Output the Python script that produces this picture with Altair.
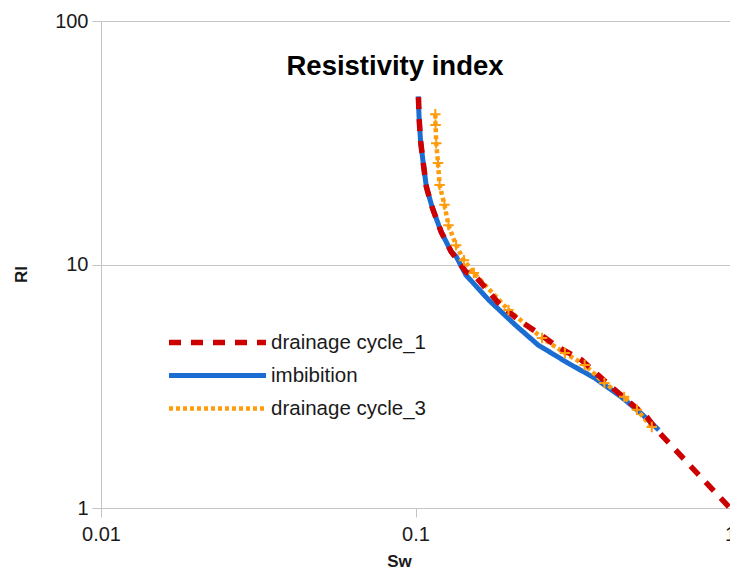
import altair as alt
import pandas as pd

# drainage cycle_1
d1_sw = [0.1022, 0.1027, 0.1037, 0.1057, 0.1083, 0.1131, 0.1207, 0.1298, 0.1447, 0.1555, 0.1837, 0.2124, 0.2455, 0.2838, 0.3375, 0.4198, 0.5446, 0.585, 1.0]
d1_ri = [48.7, 39.9, 32.5, 26.4, 20.8, 17.1, 13.6, 11.3, 9.32, 8.91, 6.95, 5.92, 5.23, 4.58, 4.05, 3.14, 2.36, 2.09, 1.0]

# imbibition
im_sw = [0.1020, 0.1027, 0.1037, 0.1057, 0.1083, 0.1131, 0.1207, 0.1298, 0.1346, 0.1447, 0.1709, 0.2078, 0.2455, 0.305, 0.371, 0.451, 0.521, 0.594]
im_ri = [49.0, 39.9, 32.5, 26.4, 20.8, 17.1, 13.6, 11.3, 10.8, 9.05, 7.15, 5.64, 4.67, 3.94, 3.42, 2.86, 2.45, 2.09]

# drainage cycle_3
d3_sw = [0.1156, 0.1158, 0.1164, 0.1179, 0.1193, 0.1236, 0.1273, 0.1346, 0.1426, 0.1533, 0.1975, 0.2526, 0.2985, 0.345, 0.3988, 0.4607, 0.506, 0.564]
d3_ri = [41.4, 37.4, 31.5, 26.1, 21.2, 17.6, 14.5, 12.0, 10.4, 9.23, 6.5, 4.99, 4.33, 3.87, 3.26, 2.86, 2.53, 2.15]

series_names = ["drainage cycle_1", "imbibition", "drainage cycle_3"]
series_colors = ["#cc0000", "#1b6dd1", "#ff9c0e"]
series_dash = [[12, 10], [1, 0], [4, 3]]
series_width = [5.5, 4.5, 4.2]

x_ticks = [0.01, 0.1, 1]
y_ticks = [1, 10, 100]

# drawing order: imbibition at the bottom, then cycle_3, then cycle_1 on top
draw_order = [("imbibition", im_sw, im_ri), ("drainage cycle_3", d3_sw, d3_ri), ("drainage cycle_1", d1_sw, d1_ri)]
rows = []
for name, xs, ys in draw_order:
    for i, (a, b) in enumerate(zip(xs, ys)):
        rows.append({"series": name, "Sw": a, "RI": b, "idx": i})
df = pd.DataFrame(rows)
df3 = df[df["series"] == "drainage cycle_3"]

FONT = "Liberation Sans"

x_scale = alt.Scale(type="log", domain=[0.01, 1], nice=False)
y_scale = alt.Scale(type="log", domain=[1, 100], nice=False)

x_enc = alt.X("Sw:Q", title="Sw", scale=x_scale,
              axis=alt.Axis(values=x_ticks, format="~g", grid=False, tickSize=9,
                            labelFlush=False, labelPadding=7, titlePadding=9, titleX=298))
y_enc = alt.Y("RI:Q", title="RI", scale=y_scale,
              axis=alt.Axis(values=y_ticks, format="~g", grid=True, tickSize=9,
                            labelPadding=4, titlePadding=24, titleY=253))

legend_kw = dict(title=None, orient="none", legendX=65, legendY=305,
                 symbolType="stroke", symbolSize=9409, symbolStrokeWidth=5,
                 clipHeight=33, labelFontSize=20.5, labelFont=FONT, labelColor="#1a1a1a",
                 labelOffset=2, rowPadding=0, padding=0)

lines = alt.Chart(df).mark_line().encode(
    x=x_enc,
    y=y_enc,
    order="idx:Q",
    color=alt.Color("series:N",
                    scale=alt.Scale(domain=series_names, range=series_colors),
                    legend=alt.Legend(**legend_kw)),
    strokeDash=alt.StrokeDash("series:N",
                              scale=alt.Scale(domain=series_names, range=series_dash),
                              legend=alt.Legend(**legend_kw)),
    strokeWidth=alt.StrokeWidth("series:N",
                                scale=alt.Scale(domain=series_names, range=series_width),
                                legend=None),
)

markers = alt.Chart(df3).mark_point(
    shape="M-1,0H1M0,-1V1", filled=False, strokeWidth=2, size=110, opacity=1
).encode(
    x=alt.X("Sw:Q", scale=x_scale),
    y=alt.Y("RI:Q", scale=y_scale),
    color=alt.value("#ff9c0e"),
)

chart = alt.layer(lines, markers).properties(
    width=629, height=487,
    autosize=alt.AutoSizeParams(type="none"),
    padding={"left": 93, "top": 13, "right": 0, "bottom": 62},
    title=alt.TitleParams("Resistivity index", fontSize=27.5, font=FONT, fontWeight="bold",
                          color="#000000", anchor="middle", dx=-20.5, dy=91,
                          baseline="alphabetic", offset=0),
).configure_view(
    stroke="#c4c4c4", strokeWidth=1
).configure_axis(
    domainColor="#c4c4c4", tickColor="#c4c4c4", gridColor="#c4c4c4",
    labelFont=FONT, labelFontSize=20, labelColor="#1a1a1a",
    titleFont=FONT, titleFontSize=17, titleFontWeight="bold", titleColor="#1a1a1a",
)

chart.save("out.html", embed_options={"renderer": "svg", "actions": False})
